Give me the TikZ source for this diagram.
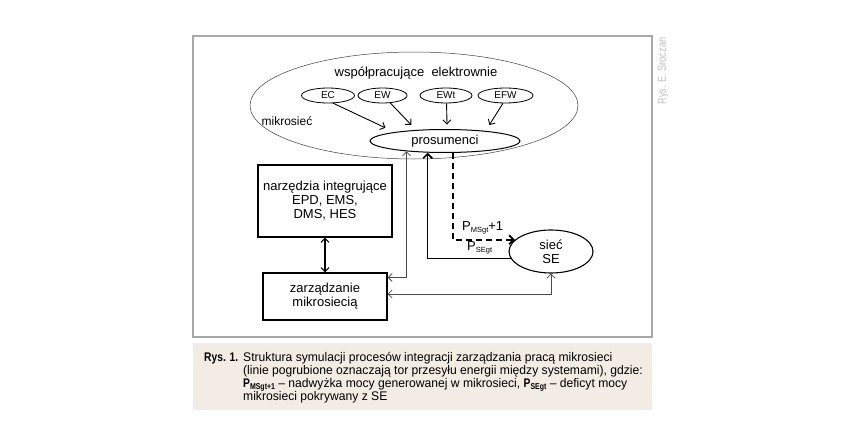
\documentclass[tikz,border=0pt]{standalone}
\usepackage{fontspec}
\setmainfont{Liberation Sans}
\newfontfamily\capfont[FakeStretch=0.97, BoldFeatures={FakeStretch=0.82}]{Liberation Sans}
\newfontfamily\wmfont[FakeStretch=0.8]{Liberation Sans}
\usetikzlibrary{arrows.meta,shapes.geometric,calc}
\definecolor{capbg}{HTML}{F3ECE5}
\definecolor{framegray}{HTML}{A8A8A8}
\definecolor{linegray}{HTML}{4A4A4A}
\newcommand{\subsc}[1]{\raisebox{-2.5pt}{\fontsize{7.5}{8}\selectfont #1}}
\newcommand{\capsub}[1]{\raisebox{-2pt}{\fontsize{8.5}{9}\selectfont\bfseries #1}}
\begin{document}
\begin{tikzpicture}[x=1pt,y=-1pt,
  every node/.style={inner sep=0pt, font=\fontsize{13}{14}\selectfont},
  sell/.style={ellipse, draw, line width=0.8pt, minimum height=15, font=\fontsize{10}{11}\selectfont},
  bbox/.style={draw, line width=1.2pt, align=center},
  arr/.style={-{Straight Barb[length=4pt,width=8pt]}, line width=0.9pt},
  garr/.style={{Straight Barb[length=4pt,width=8pt]}-{Straight Barb[length=4pt,width=8pt]}, line width=0.8pt, linegray},
  darr/.style={{Straight Barb[length=4pt,width=8pt]}-{Straight Barb[length=4pt,width=8pt]}, line width=1.1pt},
  tarr/.style={-{Straight Barb[length=4.5pt,width=9pt]}, line width=1.6pt},
  dasharr/.style={-{Straight Barb[length=4.5pt,width=9pt]}, line width=1.8pt, dash pattern=on 6pt off 4pt},
  captxt/.style={anchor=base west, font=\capfont\fontsize{12.5}{13}\selectfont},
]
\useasboundingbox (0,0) rectangle (852,447);
\fill[white] (0,0) rectangle (852,447);
% frame and caption background
\draw[framegray, line width=1.5pt] (193,36) rectangle (652,337);
\fill[capbg] (193,343) rectangle (652,410);
% watermark
\node[rotate=90, text=black!25, font=\wmfont\fontsize{11.5}{12}\selectfont] (wm) at (663,71) {Rys. E. Sroczan};

% big ellipse
\node[ellipse, draw=black!75, line width=0.5pt, minimum width=328, minimum height=107] (mikro) at (414,105.5) {};
\node (wspel) at (416,73) {współpracujące\ \ elektrownie};
\node[font=\fontsize{12}{13}\selectfont] (mlab) at (287,121) {mikrosieć};

% small ellipses
\node[sell, minimum width=53] (EC) at (328,95.5) {EC};
\node[sell, minimum width=49] (EW) at (382.5,95.5) {EW};
\node[sell, minimum width=52] (EWt) at (446,95.5) {EWt};
\node[sell, minimum width=55] (EFW) at (505.5,95.5) {EFW};

% prosumenci
\node[ellipse, draw, line width=1pt, minimum width=150, minimum height=23] (pros) at (445,141) {prosumenci};

% boxes
\node[bbox, minimum width=134, minimum height=72] (narz) at (325,201) {narzędzia integrujące\\EPD, EMS,\\DMS, HES};
\node[bbox, minimum width=124, minimum height=47] (zar) at (325,296.5) {zarządzanie\\mikrosiecią};

% SE
\node[ellipse, draw, line width=1.1pt, minimum width=84, minimum height=43, align=center] (SE) at (551,251.5) {sieć\\SE};

% arrows from power plants
\draw[arr, shorten >=10pt] (EC.-56) -- (pros.170.4);
\draw[arr, shorten >=7pt] (EW.-44) -- (pros.159);
\draw[arr, shorten >=4.5pt] (EWt.-86) -- (pros.80.1);
\draw[arr, shorten >=7pt] (EFW.-108) -- (pros.14.8);

% tools <-> management
\draw[darr] (narz) -- (zar);

% gray info links
\draw[garr] (pros.195.8) |- ($(zar.north east)+(0,5)$);
\draw[garr] ($(zar.east)+(0,-2.5)$) -| (SE.south);

% energy flows
\draw[tarr] (SE.190.8) -| (pros.214.5);
\draw[dasharr] (pros.303.8) |- (SE.162.1);

% flow labels
\node[anchor=west] (pms) at (462,228) {P\subsc{MSgt}+1};
\node[anchor=west] (pse) at (467,248) {P\subsc{SEgt}};

% caption
\node[captxt, font=\capfont\bfseries\fontsize{12.5}{13}\selectfont] (rys) at (204,361) {Rys. 1.};
\node[captxt] (c1) at (243,361) {Struktura symulacji procesów integracji zarządzania pracą mikrosieci};
\node[captxt] (c2) at (243,374) {(linie pogrubione oznaczają tor przesyłu energii między systemami), gdzie:};
\node[captxt] (c3) at (243,387) {{\bfseries P}\capsub{MSgt+1} – nadwyżka mocy generowanej w mikrosieci, {\bfseries P}\capsub{SEgt} – deficyt mocy};
\node[captxt] (c4) at (243,400) {mikrosieci pokrywany z SE};
\end{tikzpicture}
\end{document}
